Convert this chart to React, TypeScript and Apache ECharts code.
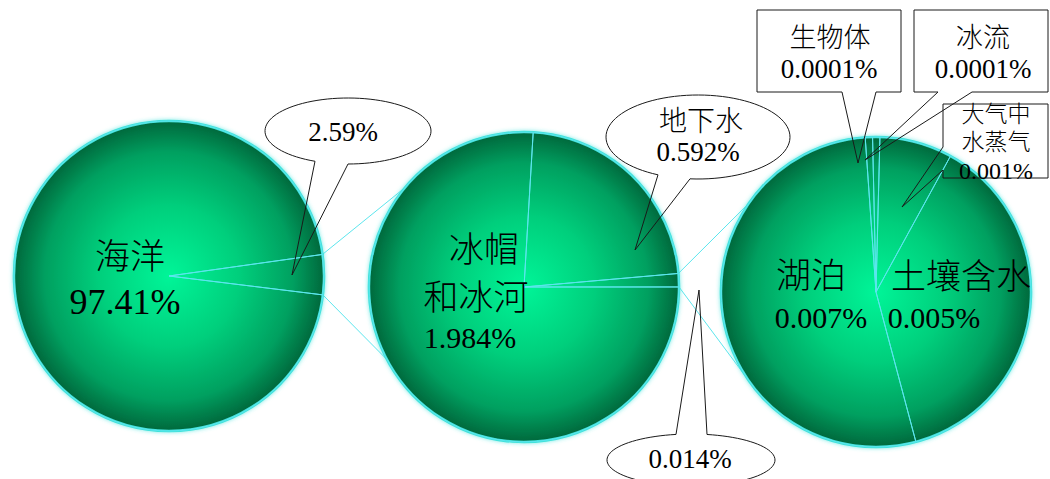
import React, { useEffect, useRef } from 'react';
import * as echarts from 'echarts';

// ---- data ----
const level1Names = ['其他水体', '海洋'];
const level1Values = [2.59, 97.41];
const level2Names = ['地下水', '其他', '冰帽\n和冰河'];
const level2Values = [0.592, 0.014, 1.984];
const level3Names = ['生物体', '冰流', '大气中\n水蒸气', '土壤含水', '湖泊'];
const level3Values = [0.0001, 0.0001, 0.001, 0.005, 0.007];

const pct = (v: number) => `${v}%`;

// ---- layout / style ----
const FONT = "'Liberation Serif', 'Times New Roman', 'Noto Sans CJK SC', serif";
const CYAN = '#5ce6ee';
const RIM = '#40e2da';

const circles = [
  { cx: 169, cy: 276, r: 155, startAngle: 8, minAngle: 15 },
  { cx: 524, cy: 287, r: 155, startAngle: 86.6, minAngle: 5 },
  { cx: 876, cy: 292, r: 155, startAngle: 94, minAngle: 0 },
];
const levels = [
  { names: level1Names, values: level1Values },
  { names: level2Names, values: level2Values },
  { names: level3Names, values: level3Values },
];
// zoom connectors: slice of level `from` -> edge angles (screen deg) on next circle
const links = [
  { from: 0, index: 0, targets: [-140, 152] },
  { from: 1, index: 1, targets: [-145, 143] },
];

type Callout =
  | { kind: 'ellipse'; cx: number; cy: number; rx: number; ry: number; side: 'top' | 'bottom'; base: number[]; tip: number[] }
  | { kind: 'rect'; x0: number; y0: number; x1: number; y1: number; side: 'bottom' | 'left'; base: number[]; tip: number[] };

const annotations: { level: number; index: number; showName: boolean; lines: number[][]; callout?: Callout }[] = [
  { level: 0, index: 1, showName: true, lines: [[130, 257, 35], [125, 302, 36]] },
  {
    level: 0, index: 0, showName: false, lines: [[343, 132, 27]],
    callout: { kind: 'ellipse', cx: 348, cy: 131, rx: 83, ry: 33, side: 'bottom', base: [315, 348], tip: [292, 275] },
  },
  { level: 1, index: 2, showName: true, lines: [[484, 250, 35], [476, 298, 35], [470, 337, 30]] },
  {
    level: 1, index: 0, showName: true, lines: [[701, 121, 28], [698, 152, 27]],
    callout: { kind: 'ellipse', cx: 698, cy: 137, rx: 92, ry: 42, side: 'bottom', base: [658, 690], tip: [635, 250] },
  },
  {
    level: 1, index: 1, showName: false, lines: [[690, 459, 27]],
    callout: { kind: 'ellipse', cx: 691, cy: 460, rx: 84, ry: 26, side: 'top', base: [676, 707], tip: [699, 290] },
  },
  { level: 2, index: 4, showName: true, lines: [[811, 276, 35], [821, 317, 30]] },
  { level: 2, index: 3, showName: true, lines: [[961, 277, 35], [934, 317, 30]] },
  {
    level: 2, index: 0, showName: true, lines: [[830, 38, 27], [829, 69, 27]],
    callout: { kind: 'rect', x0: 757, y0: 10, x1: 901, y1: 92, side: 'bottom', base: [842, 876], tip: [858, 163] },
  },
  {
    level: 2, index: 1, showName: true, lines: [[983, 38, 27], [983, 69, 27]],
    callout: { kind: 'rect', x0: 914, y0: 10, x1: 1048, y1: 92, side: 'bottom', base: [938, 972], tip: [865, 160] },
  },
  {
    level: 2, index: 2, showName: true, lines: [[996, 114, 23], [996, 142, 23], [996, 171, 24]],
    callout: { kind: 'rect', x0: 943, y0: 104, x1: 1048, y1: 178, side: 'left', base: [147, 170], tip: [902, 207] },
  },
];

const RAD = Math.PI / 180;

function fallbackAngles(values: number[], startDeg: number, minDeg: number): number[][] {
  const sum = values.reduce((a, b) => a + b, 0);
  const minA = minDeg * RAD;
  let rest = Math.PI * 2;
  let big = 0;
  const isMin = values.map((v) => {
    const a = (v / sum) * Math.PI * 2;
    if (a < minA) { rest -= minA; return true; }
    big += v;
    return false;
  });
  const angles = values.map((v, k) => (isMin[k] ? minA : (v * rest) / big));
  let cur = -startDeg * RAD;
  return angles.map((a) => { const s = cur; cur += a; return [s, cur]; });
}

function calloutPoints(c: Callout): number[][] {
  if (c.kind === 'ellipse') {
    const sgn = c.side === 'bottom' ? 1 : -1;
    const tA = sgn * Math.acos((c.base[0] - c.cx) / c.rx);
    const tB = sgn * Math.acos((c.base[1] - c.cx) / c.rx);
    const t1 = Math.min(tA, tB);
    const t2 = Math.max(tA, tB);
    const pts: number[][] = [];
    const N = 90;
    for (let k = 0; k <= N; k++) {
      const t = t2 + ((t1 + Math.PI * 2 - t2) * k) / N;
      pts.push([c.cx + c.rx * Math.cos(t), c.cy + c.ry * Math.sin(t)]);
    }
    pts.push(c.tip);
    return pts;
  }
  if (c.side === 'bottom') {
    return [[c.x0, c.y0], [c.x1, c.y0], [c.x1, c.y1], [c.base[1], c.y1], c.tip, [c.base[0], c.y1], [c.x0, c.y1]];
  }
  return [[c.x0, c.y0], [c.x1, c.y0], [c.x1, c.y1], [c.x0, c.y1], [c.x0, c.base[1]], c.tip, [c.x0, c.base[0]]];
}

export default function App() {
  const ref = useRef<HTMLDivElement>(null);
  useEffect(() => {
    document.body.style.margin = '0';
    const chart = echarts.init(ref.current!, undefined, { renderer: 'svg' });
    const series: any[] = [];
    levels.forEach((lv, i) => {
      const c = circles[i];
      series.push({
        type: 'pie', center: [c.cx, c.cy], radius: c.r, silent: true, z: 2,
        label: { show: false }, labelLine: { show: false }, emphasis: { disabled: true },
        data: [{
          value: 1,
          itemStyle: {
            color: {
              type: 'radial', x: 0.5, y: 0.5, r: 0.5,
              colorStops: [
                { offset: 0, color: '#00f598' },
                { offset: 0.45, color: '#00cf7c' },
                { offset: 0.8, color: '#00a060' },
                { offset: 1, color: '#00683c' },
              ],
            },
            borderColor: RIM, borderWidth: 2.5,
            shadowBlur: 4, shadowColor: 'rgba(64,226,218,0.7)',
          },
        }],
      });
      series.push({
        type: 'pie', center: [c.cx, c.cy], radius: c.r, silent: true, z: 3,
        startAngle: c.startAngle, minAngle: c.minAngle, clockwise: true,
        label: { show: false }, labelLine: { show: false }, emphasis: { disabled: true },
        itemStyle: { color: 'rgba(0,0,0,0)', borderColor: CYAN, borderWidth: 1 },
        data: lv.names.map((n, k) => ({ name: n, value: lv.values[k] })),
      });
    });
    chart.setOption({ animation: false, tooltip: { show: false }, series });

    const angleOf = (level: number): number[][] => {
      try {
        const data = (chart as any).getModel().getSeriesByIndex(level * 2 + 1).getData();
        const res = levels[level].values.map((_, k) => {
          const l = data.getItemLayout(k);
          return [l.startAngle, l.endAngle];
        });
        if (res.every((a: number[]) => isFinite(a[0]) && isFinite(a[1]))) return res;
      } catch (e) { /* fall through */ }
      const c = circles[level];
      return fallbackAngles(levels[level].values, c.startAngle, c.minAngle);
    };

    const elements: any[] = [];
    links.forEach((lk) => {
      const c = circles[lk.from];
      const n = circles[lk.from + 1];
      const ang = angleOf(lk.from)[lk.index];
      ang.forEach((a, j) => {
        const t = lk.targets[j] * RAD;
        elements.push({
          type: 'line', z: 1, silent: true,
          shape: { x1: c.cx + c.r * Math.cos(a), y1: c.cy + c.r * Math.sin(a), x2: n.cx + n.r * Math.cos(t), y2: n.cy + n.r * Math.sin(t) },
          style: { stroke: CYAN, lineWidth: 1 },
        });
      });
    });

    annotations.forEach((an) => {
      const lv = levels[an.level];
      const texts = [...(an.showName ? lv.names[an.index].split('\n') : []), pct(lv.values[an.index])];
      if (an.callout) {
        const c = an.callout;
        if (c.kind === 'ellipse') {
          elements.push({ type: 'ellipse', z: 9, silent: true, shape: { cx: c.cx, cy: c.cy, rx: c.rx, ry: c.ry }, style: { fill: '#ffffff' } });
        }
        elements.push({
          type: 'polygon', z: 10, silent: true,
          shape: { points: calloutPoints(c) },
          style: { fill: 'none', stroke: '#1a1a1a', lineWidth: 1 },
        });
      }
      texts.forEach((t, k) => {
        const [x, y, size] = an.lines[k];
        elements.push({
          type: 'text', z: 12, silent: true,
          style: {
            text: t, x, y, fill: '#000', fontSize: size, fontFamily: FONT, fontWeight: 300,
            textAlign: 'center', textVerticalAlign: 'middle', align: 'center', verticalAlign: 'middle',
          },
        });
      });
    });

    chart.setOption({ graphic: { elements } });
    return () => chart.dispose();
  }, []);
  return <div ref={ref} style={{ width: 1050, height: 479 }} />;
}
